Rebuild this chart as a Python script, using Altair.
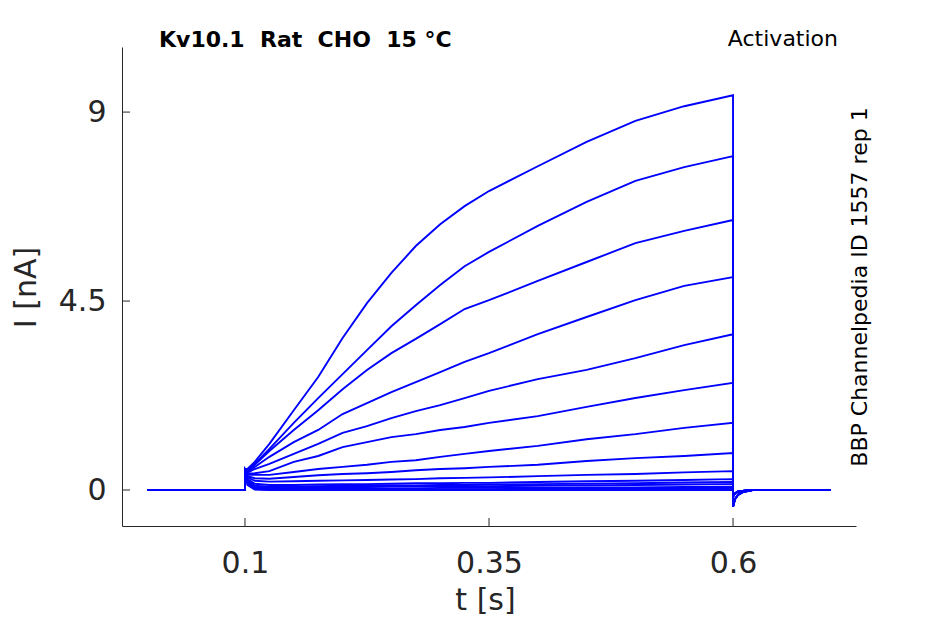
import altair as alt
import pandas as pd

# ---- data ----
# holding level before the step, ending in the capacitive spike at 0.1 s
T_PRE = [0.0, 0.1, 0.1]
I_PRE = [0.0, 0.0, 0.5]

T_STEP = [0.1025, 0.11, 0.125, 0.15, 0.175, 0.2, 0.225, 0.25, 0.275, 0.3,
          0.325, 0.35, 0.4, 0.45, 0.5, 0.55, 0.6]
SWEEPS = [
    [0.50, 0.67, 1.10, 1.90, 2.69, 3.62, 4.45, 5.17, 5.81, 6.33, 6.76, 7.12, 7.71, 8.29, 8.79, 9.14, 9.40],
    [0.47, 0.62, 0.98, 1.60, 2.19, 2.76, 3.33, 3.90, 4.40, 4.88, 5.33, 5.67, 6.29, 6.86, 7.36, 7.69, 7.95],
    [0.45, 0.60, 0.93, 1.43, 1.90, 2.40, 2.86, 3.26, 3.60, 3.95, 4.31, 4.52, 4.98, 5.43, 5.88, 6.17, 6.43],
    [0.43, 0.55, 0.79, 1.14, 1.43, 1.81, 2.07, 2.33, 2.57, 2.81, 3.05, 3.26, 3.71, 4.12, 4.52, 4.86, 5.07],
    [0.41, 0.50, 0.62, 0.86, 1.10, 1.36, 1.52, 1.71, 1.88, 2.02, 2.19, 2.36, 2.64, 2.86, 3.14, 3.45, 3.71],
    [0.39, 0.40, 0.45, 0.67, 0.81, 1.02, 1.14, 1.26, 1.33, 1.43, 1.50, 1.60, 1.76, 1.98, 2.19, 2.38, 2.55],
    [0.36, 0.36, 0.36, 0.43, 0.50, 0.55, 0.60, 0.67, 0.71, 0.79, 0.86, 0.93, 1.05, 1.21, 1.33, 1.48, 1.60],
    [0.33, 0.28, 0.27, 0.31, 0.35, 0.38, 0.40, 0.43, 0.47, 0.50, 0.52, 0.55, 0.60, 0.69, 0.76, 0.81, 0.88],
    [0.30, 0.22, 0.20, 0.21, 0.22, 0.23, 0.24, 0.25, 0.26, 0.28, 0.29, 0.30, 0.33, 0.36, 0.38, 0.42, 0.45],
    [0.26, 0.15, 0.12, 0.12, 0.13, 0.14, 0.14, 0.15, 0.16, 0.16, 0.17, 0.17, 0.19, 0.21, 0.22, 0.24, 0.26],
    [0.23, 0.10, 0.08, 0.08, 0.09, 0.10, 0.10, 0.11, 0.11, 0.12, 0.12, 0.13, 0.14, 0.15, 0.16, 0.18, 0.19],
    [0.20, 0.07, 0.06, 0.06, 0.06, 0.07, 0.07, 0.08, 0.08, 0.09, 0.09, 0.09, 0.10, 0.11, 0.12, 0.13, 0.14],
    [0.17, 0.04, 0.03, 0.03, 0.03, 0.04, 0.04, 0.04, 0.04, 0.05, 0.05, 0.05, 0.05, 0.06, 0.06, 0.07, 0.07],
    [0.14, 0.02, 0.01, 0.01, 0.01, 0.02, 0.02, 0.02, 0.02, 0.02, 0.02, 0.02, 0.03, 0.03, 0.03, 0.03, 0.03],
    [0.12, 0.01, 0.00, 0.00, 0.00, 0.00, 0.00, 0.00, 0.00, 0.00, 0.00, 0.00, 0.00, 0.00, 0.00, 0.00, 0.00],
]

# tail current after the step back to the holding level
T_TAIL = [0.6, 0.602, 0.605, 0.61, 0.62, 0.7]
TAIL_LARGE = [-0.40, -0.22, -0.12, -0.05, 0.0, 0.0]
TAIL_SMALL = [-0.15, -0.08, -0.04, -0.02, 0.0, 0.0]
TAIL_KIND = ["L", "L", "L", "L", "L", "S", "S", "S", "S", "S", "S", "S", "S", "S", "S"]

X_TICKS = [0.1, 0.35, 0.6]
Y_TICKS = [0, 4.5, 9]

NB = "\u00a0"
TITLE = f"Kv10.1{NB} Rat{NB} CHO{NB} 15 °C"
PROTOCOL = "Activation"
SOURCE = "BBP Channelpedia ID 1557 rep 1"

# ---- build table ----
rows = []
for k, sweep in enumerate(SWEEPS):
    seq = 0
    for t, v in zip(T_PRE, I_PRE):
        rows.append({"sweep": k, "seq": seq, "t": t, "i": v}); seq += 1
    for t, v in zip(T_STEP, sweep):
        rows.append({"sweep": k, "seq": seq, "t": t, "i": v}); seq += 1
    tail = TAIL_LARGE if TAIL_KIND[k] == "L" else TAIL_SMALL
    for t, v in zip(T_TAIL, tail):
        rows.append({"sweep": k, "seq": seq, "t": t, "i": v}); seq += 1
df = pd.DataFrame(rows)

W, H = 734, 479
FONT = "DejaVu Sans"
AX = "#262626"

xscale = alt.Scale(domain=[-0.026, 0.726], nice=False, zero=False)
yscale = alt.Scale(domain=[-0.857, 10.55], nice=False, zero=False)

xaxis = alt.Axis(values=X_TICKS, format=".2~f", grid=False, ticks=False, tickSize=0,
                 domainColor=AX, domainWidth=1, labelFont=FONT, labelFontSize=30,
                 labelColor=AX, labelPadding=46, labelBaseline="alphabetic",
                 labelFlush=False, title="t [s]", titleFont=FONT, titleFontSize=30,
                 titleFontWeight="normal", titleColor=AX, titleX=363, titleY=83,
                 titleAlign="center", titleBaseline="alphabetic")
yaxis = alt.Axis(values=Y_TICKS, format=".1~f", grid=False, ticks=False, tickSize=0,
                 domainColor=AX, domainWidth=1, labelFont=FONT, labelFontSize=30,
                 labelColor=AX, labelPadding=16, labelFlush=False,
                 title="I [nA]", titleFont=FONT, titleFontSize=30,
                 titleFontWeight="normal", titleColor=AX, titleX=-96, titleY=240,
                 titleAngle=270, titleAlign="center", titleBaseline="middle")

lines = alt.Chart(df).mark_line(color="#0000ff", strokeWidth=1.9, clip=True).encode(
    x=alt.X("t:Q", scale=xscale, axis=xaxis),
    y=alt.Y("i:Q", scale=yscale, axis=yaxis),
    detail="sweep:N",
    order="seq:Q",
)

xt = alt.Chart(pd.DataFrame({"t": X_TICKS})).mark_rule(color=AX, strokeWidth=1).encode(
    x=alt.X("t:Q", scale=xscale),
    y=alt.value(H - 8), y2=alt.value(H),
)
yt = alt.Chart(pd.DataFrame({"i": Y_TICKS})).mark_rule(color=AX, strokeWidth=1).encode(
    y=alt.Y("i:Q", scale=yscale),
    x=alt.value(0), x2=alt.value(8),
)

title = alt.Chart(pd.DataFrame({"s": [TITLE]})).mark_text(
    font=FONT, fontSize=22, fontWeight="bold", color="black", align="left",
    baseline="alphabetic").encode(text="s:N", x=alt.value(37), y=alt.value(0))
proto = alt.Chart(pd.DataFrame({"s": [PROTOCOL]})).mark_text(
    font=FONT, fontSize=22, color="black", align="right",
    baseline="alphabetic").encode(text="s:N", x=alt.value(716), y=alt.value(-1))
source = alt.Chart(pd.DataFrame({"s": [SOURCE]})).mark_text(
    font=FONT, fontSize=22, color="black", align="center", angle=270,
    baseline="alphabetic").encode(text="s:N", x=alt.value(745), y=alt.value(240))

chart = alt.layer(lines, xt, yt, title, proto, source).properties(
    width=W, height=H, autosize="none",
    padding={"left": 114, "top": 39, "right": 60, "bottom": 90},
).configure_view(stroke="transparent")

chart.save("out.html", embed_options={"renderer": "svg", "actions": False})
